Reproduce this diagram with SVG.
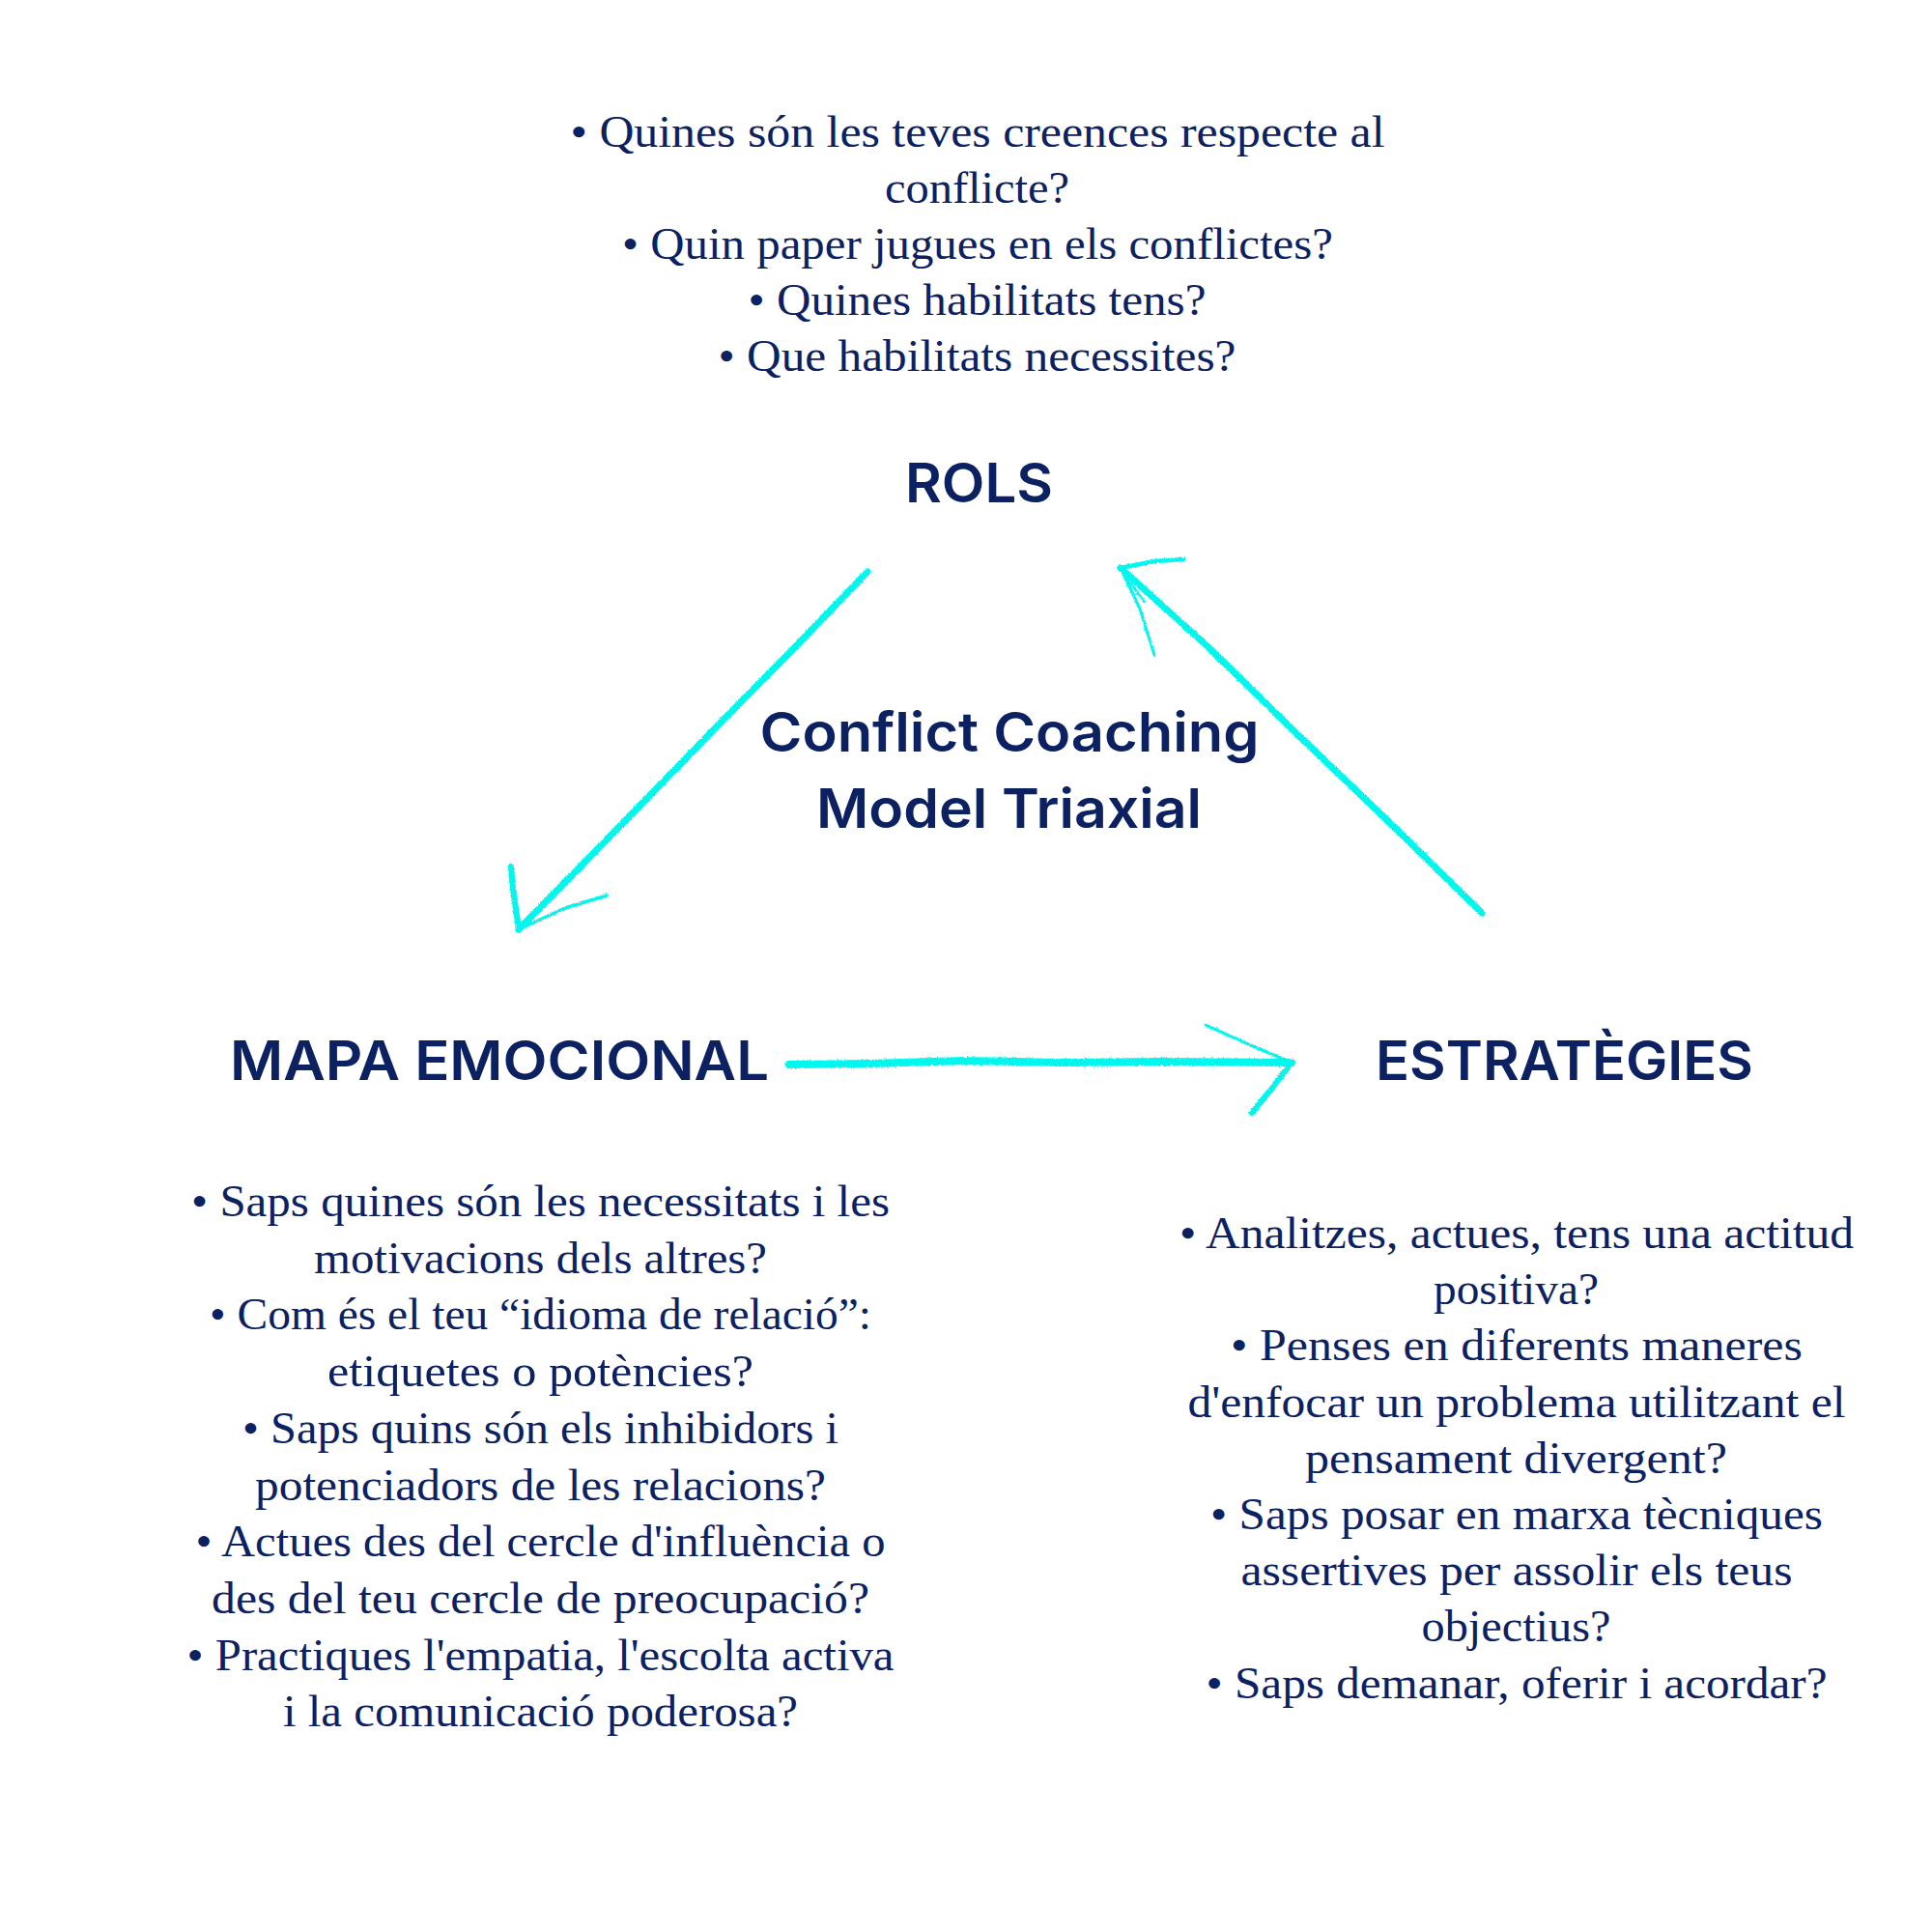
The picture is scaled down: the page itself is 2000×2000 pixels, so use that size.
<svg xmlns="http://www.w3.org/2000/svg" width="2000" height="2000" viewBox="0 0 2000 2000">
<style>
.q{font-family:"Liberation Serif","Times New Roman",serif;font-size:46px;fill:#0b2161;text-anchor:middle}
.h{font-family:Inter,"Noto Sans","Liberation Sans",sans-serif;font-size:56px;font-weight:600;fill:#0b2161;text-anchor:middle}
.ar{fill:none;stroke:#00f7ee;stroke-linecap:round;stroke-linejoin:round}
</style>
<defs>
<filter id="chalk" filterUnits="userSpaceOnUse" x="0" y="0" width="2000" height="2000">
<feTurbulence type="fractalNoise" baseFrequency="0.9" numOctaves="2" seed="4" result="n"/>
<feDisplacementMap in="SourceGraphic" in2="n" scale="3" xChannelSelector="R" yChannelSelector="G"/>
</filter>
</defs>
<rect width="2000" height="2000" fill="#ffffff"/>

<g id="rols">
<text class="q" x="1012" y="151.5" textLength="843" lengthAdjust="spacingAndGlyphs">• Quines són les teves creences respecte al</text>
<text class="q" x="1011.5" y="209.5" textLength="191" lengthAdjust="spacingAndGlyphs">conflicte?</text>
<text class="q" x="1012" y="267.5" textLength="736" lengthAdjust="spacingAndGlyphs">• Quin paper jugues en els conflictes?</text>
<text class="q" x="1011.5" y="325.5" textLength="474" lengthAdjust="spacingAndGlyphs">• Quines habilitats tens?</text>
<text class="q" x="1011.5" y="384" textLength="536" lengthAdjust="spacingAndGlyphs">• Que habilitats necessites?</text>
<text class="h" x="1013.5" y="520" textLength="153" lengthAdjust="spacingAndGlyphs">ROLS</text>
</g>

<g id="title">
<text class="h" x="1045" y="778" textLength="517" lengthAdjust="spacingAndGlyphs">Conflict Coaching</text>
<text class="h" x="1044.5" y="857" textLength="399" lengthAdjust="spacingAndGlyphs">Model Triaxial</text>
</g>

<g id="mapa-emocional">
<text class="h" x="517" y="1118" textLength="558" lengthAdjust="spacingAndGlyphs">MAPA EMOCIONAL</text>
<text class="q" x="559.5" y="1259" textLength="723" lengthAdjust="spacingAndGlyphs">• Saps quines són les necessitats i les</text>
<text class="q" x="559.5" y="1317.7" textLength="469" lengthAdjust="spacingAndGlyphs">motivacions dels altres?</text>
<text class="q" x="559.5" y="1376.4" textLength="685" lengthAdjust="spacingAndGlyphs">• Com és el teu “idioma de relació”:</text>
<text class="q" x="559.5" y="1435.1" textLength="441" lengthAdjust="spacingAndGlyphs">etiquetes o potències?</text>
<text class="q" x="559.5" y="1493.8" textLength="617" lengthAdjust="spacingAndGlyphs">• Saps quins són els inhibidors i</text>
<text class="q" x="559.5" y="1552.5" textLength="591" lengthAdjust="spacingAndGlyphs">potenciadors de les relacions?</text>
<text class="q" x="559.5" y="1611.2" textLength="714" lengthAdjust="spacingAndGlyphs">• Actues des del cercle d'influència o</text>
<text class="q" x="559.5" y="1669.9" textLength="681" lengthAdjust="spacingAndGlyphs">des del teu cercle de preocupació?</text>
<text class="q" x="559.5" y="1728.6" textLength="732" lengthAdjust="spacingAndGlyphs">• Practiques l'empatia, l'escolta activa</text>
<text class="q" x="559.5" y="1787.3" textLength="533" lengthAdjust="spacingAndGlyphs">i la comunicació poderosa?</text>
</g>

<g id="estrategies">
<text class="h" x="1619.5" y="1118" textLength="391" lengthAdjust="spacingAndGlyphs">ESTRATÈGIES</text>
<text class="q" x="1570" y="1292" textLength="698" lengthAdjust="spacingAndGlyphs">• Analitzes, actues, tens una actitud</text>
<text class="q" x="1569.5" y="1350.2" textLength="171" lengthAdjust="spacingAndGlyphs">positiva?</text>
<text class="q" x="1570" y="1408.4" textLength="592" lengthAdjust="spacingAndGlyphs">• Penses en diferents maneres</text>
<text class="q" x="1570" y="1466.6" textLength="681" lengthAdjust="spacingAndGlyphs">d'enfocar un problema utilitzant el</text>
<text class="q" x="1569.5" y="1524.8" textLength="437" lengthAdjust="spacingAndGlyphs">pensament divergent?</text>
<text class="q" x="1570" y="1583" textLength="634" lengthAdjust="spacingAndGlyphs">• Saps posar en marxa tècniques</text>
<text class="q" x="1570" y="1641.2" textLength="571" lengthAdjust="spacingAndGlyphs">assertives per assolir els teus</text>
<text class="q" x="1569.5" y="1699.4" textLength="196" lengthAdjust="spacingAndGlyphs">objectius?</text>
<text class="q" x="1570" y="1757.6" textLength="643" lengthAdjust="spacingAndGlyphs">• Saps demanar, oferir i acordar?</text>
</g>

<g id="connectors" filter="url(#chalk)">
<!-- ROLS -> MAPA EMOCIONAL -->
<path class="ar" stroke-width="7" d="M898,592 L820,673 L747,747 L673,823 L600,898 L537,962"/>
<path class="ar" stroke-width="6" d="M537,962 L531,920 L529,897"/>
<path class="ar" stroke-width="3.5" d="M537,962 L585,940 L628,927"/>
<!-- ESTRATEGIES -> ROLS -->
<path class="ar" stroke-width="7" d="M1534,945 L1440,853 L1345,762 L1250,669 L1160,588"/>
<path class="ar" stroke-width="2.5" d="M1164,596 L1185,623"/>
<path class="ar" stroke-width="4.5" d="M1160,588 L1195,581 L1225,579"/>
<path class="ar" stroke-width="3" d="M1160,588 L1180,630 L1195,678"/>
<!-- MAPA EMOCIONAL -> ESTRATEGIES -->
<path class="ar" stroke-width="8" d="M817,1102 L900,1101 L1000,1098 L1100,1100 L1200,1099 L1337,1100"/>
<path class="ar" stroke-width="3" d="M1248,1061 L1290,1080 L1337,1100"/>
<path class="ar" stroke-width="6" d="M1337,1100 L1318,1125 L1296,1152"/>
</g>
</svg>
